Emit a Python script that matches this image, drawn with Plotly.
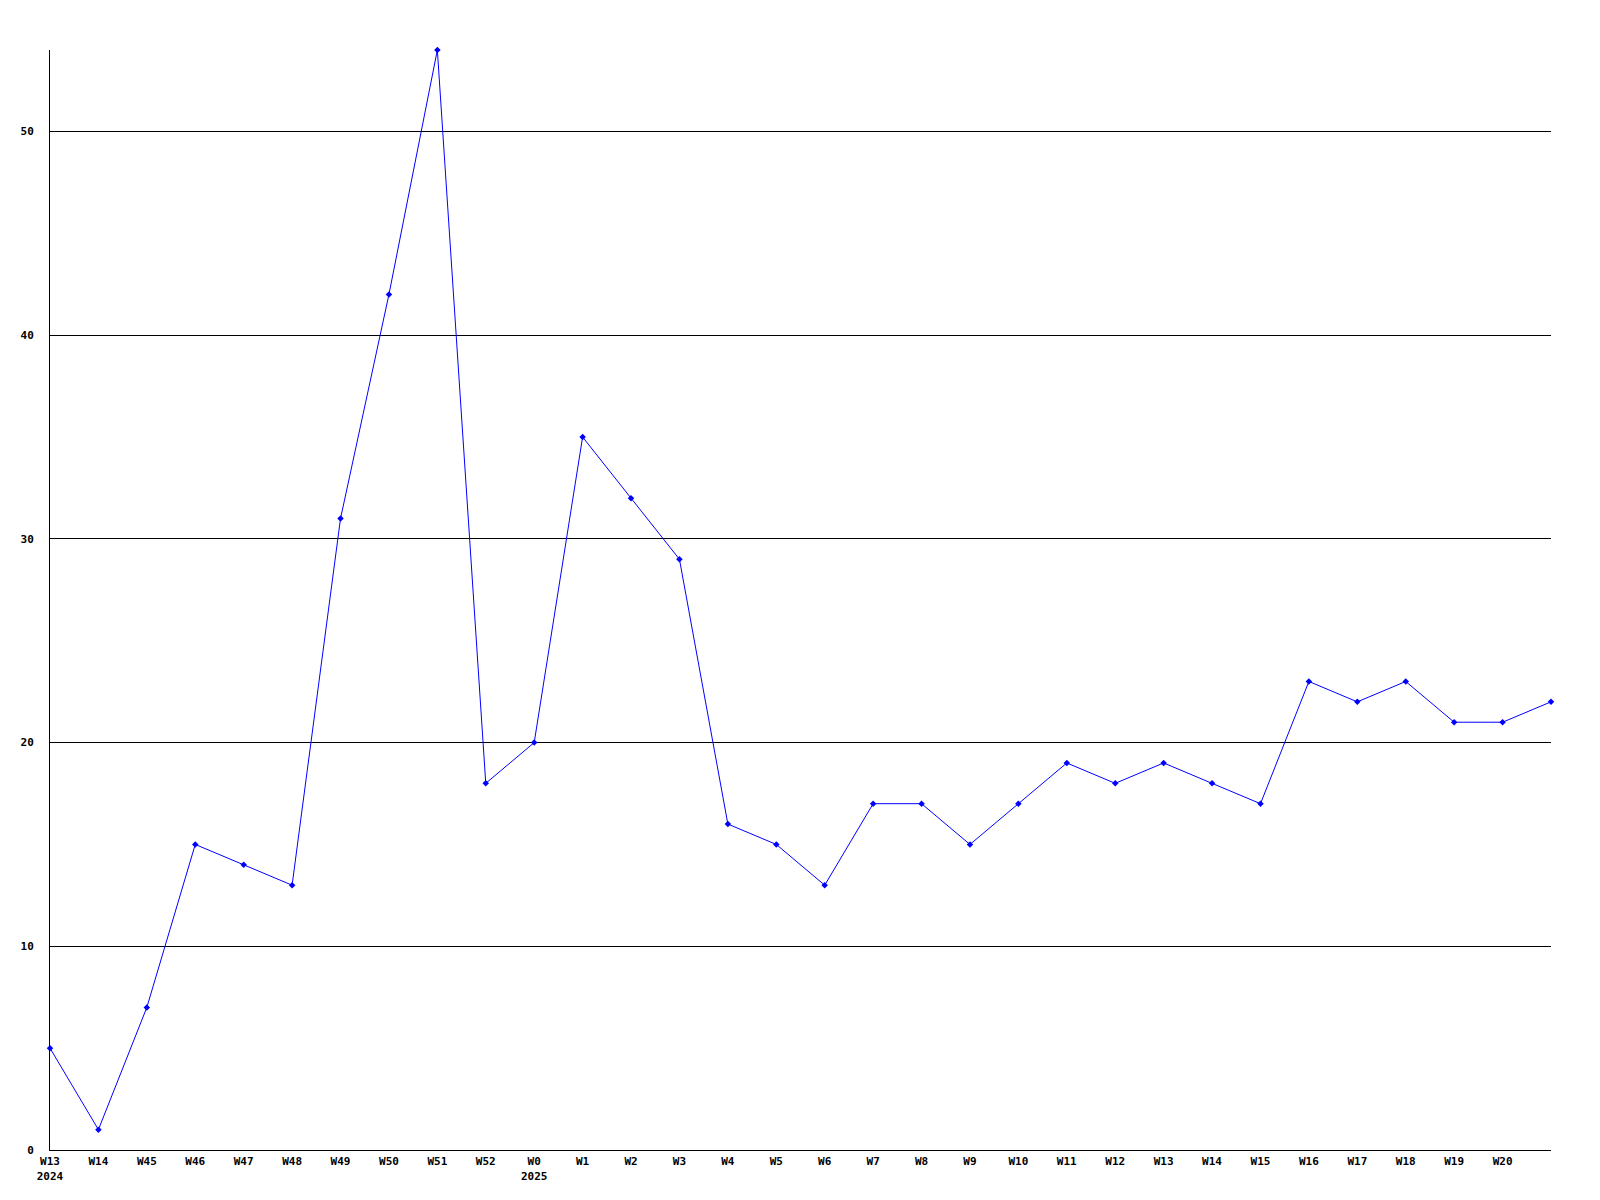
import plotly.graph_objects as go

weeks = ["W13", "W14", "W45", "W46", "W47", "W48", "W49", "W50", "W51", "W52",
         "W0", "W1", "W2", "W3", "W4", "W5", "W6", "W7", "W8", "W9", "W10",
         "W11", "W12", "W13", "W14", "W15", "W16", "W17", "W18", "W19", "W20", ""]
years = {0: "2024", 10: "2025"}
values = [5, 1, 7, 15, 14, 13, 31, 42, 54, 18,
          20, 35, 32, 29, 16, 15, 13, 17, 17, 15, 17,
          19, 18, 19, 18, 17, 23, 22, 23, 21, 21, 22]
y_ticks = [0, 10, 20, 30, 40, 50]

x = list(range(len(values)))
ticktext = [w + ("<br>" + years[i] if i in years else "") for i, w in enumerate(weeks)]

fig = go.Figure()
fig.add_trace(go.Scatter(
    x=x, y=values, mode="lines+markers",
    line=dict(color="#0000ff", width=1),
    marker=dict(symbol="diamond", size=5, color="#0000ff"),
    cliponaxis=False, hoverinfo="x+y",
))

font = dict(family="DejaVu Sans Mono", size=11, color="black", weight="bold")
fig.update_layout(
    width=1600, height=1200,
    margin=dict(l=42, r=57, t=42, b=58),
    paper_bgcolor="white", plot_bgcolor="white",
    showlegend=False,
    font=font,
)
fig.update_xaxes(
    range=[0, len(values) - 1], tickmode="array", tickvals=x, ticktext=ticktext,
    showgrid=False, zeroline=False, showline=True, linecolor="black", linewidth=1,
    ticks="outside", ticklen=1, tickcolor="white", tickfont=font, tickangle=0,
)
fig.update_yaxes(
    range=[0, 54], tickmode="array", tickvals=y_ticks,
    showgrid=True, gridcolor="black", gridwidth=1, zeroline=False,
    showline=True, linecolor="black", linewidth=1,
    ticks="outside", ticklen=13, tickcolor="white", tickfont=font,
)
fig.write_html("out.html")
